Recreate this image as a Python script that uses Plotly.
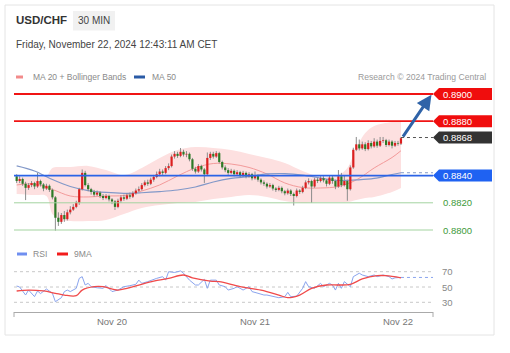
import plotly.graph_objects as go
import pandas as pd

# ---------------- data ----------------
symbol = "USD/CHF"
timeframe = "30 MIN"
stamp = "Friday, November 22, 2024 12:43:11 AM CET"
credit = "Research \u00a9 2024 Trading Central"

first_open = 0.88395
closes = [0.88360, 0.88375, 0.88340, 0.88310, 0.88330, 0.88345, 0.88320, 0.88360, 0.88335, 0.88305,
          0.88325, 0.88295, 0.88240, 0.88090, 0.88060, 0.88110, 0.88080, 0.88130, 0.88150, 0.88170,
          0.88200, 0.88300, 0.88420, 0.88330, 0.88300, 0.88280, 0.88260, 0.88275, 0.88250, 0.88235,
          0.88250, 0.88225, 0.88210, 0.88170, 0.88215, 0.88240, 0.88230, 0.88255, 0.88245, 0.88270,
          0.88290, 0.88300, 0.88330, 0.88350, 0.88340, 0.88370, 0.88390, 0.88410, 0.88430, 0.88420,
          0.88455, 0.88470, 0.88540, 0.88560, 0.88545, 0.88575, 0.88555, 0.88560, 0.88520, 0.88450,
          0.88430, 0.88470, 0.88445, 0.88410, 0.88530, 0.88560, 0.88540, 0.88565, 0.88500, 0.88460,
          0.88440, 0.88420, 0.88435, 0.88410, 0.88425, 0.88400, 0.88420, 0.88395, 0.88410, 0.88380,
          0.88400, 0.88370, 0.88350, 0.88340, 0.88320, 0.88330, 0.88305, 0.88295, 0.88310, 0.88285,
          0.88270, 0.88290, 0.88265, 0.88250, 0.88290, 0.88280, 0.88310, 0.88350, 0.88360, 0.88320,
          0.88370, 0.88360, 0.88380, 0.88365, 0.88340, 0.88385, 0.88360, 0.88320, 0.88395, 0.88330,
          0.88360, 0.88300, 0.88460, 0.88590, 0.88630, 0.88600, 0.88630, 0.88595, 0.88640, 0.88615,
          0.88650, 0.88620, 0.88655, 0.88660, 0.88625, 0.88650, 0.88620, 0.88640, 0.88635, 0.88675]
highs = [0.88410, 0.88395, 0.88385, 0.88355, 0.88345, 0.88360, 0.88355, 0.88420, 0.88370, 0.88345,
         0.88340, 0.88335, 0.88305, 0.88250, 0.88130, 0.88125, 0.88140, 0.88150, 0.88175, 0.88190,
         0.88215, 0.88310, 0.88445, 0.88435, 0.88345, 0.88310, 0.88295, 0.88290, 0.88285, 0.88265,
         0.88265, 0.88260, 0.88235, 0.88220, 0.88230, 0.88255, 0.88260, 0.88270, 0.88275, 0.88285,
         0.88305, 0.88320, 0.88345, 0.88365, 0.88370, 0.88385, 0.88405, 0.88430, 0.88450, 0.88445,
         0.88470, 0.88490, 0.88555, 0.88580, 0.88575, 0.88603, 0.88590, 0.88580, 0.88570, 0.88530,
         0.88465, 0.88485, 0.88480, 0.88455, 0.88570, 0.88575, 0.88575, 0.88580, 0.88575, 0.88510,
         0.88475, 0.88455, 0.88450, 0.88445, 0.88440, 0.88435, 0.88435, 0.88430, 0.88425, 0.88420,
         0.88430, 0.88410, 0.88380, 0.88365, 0.88350, 0.88345, 0.88340, 0.88315, 0.88325, 0.88320,
         0.88295, 0.88305, 0.88300, 0.88275, 0.88305, 0.88300, 0.88325, 0.88365, 0.88380, 0.88370,
         0.88385, 0.88385, 0.88395, 0.88395, 0.88375, 0.88400, 0.88400, 0.88370, 0.88441, 0.88420,
         0.88400, 0.88370, 0.88475, 0.88605, 0.88684, 0.88665, 0.88650, 0.88645, 0.88660, 0.88655,
         0.88675, 0.88665, 0.88684, 0.88684, 0.88670, 0.88665, 0.88660, 0.88655, 0.88655, 0.88684]
lows = [0.88345, 0.88345, 0.88325, 0.88220, 0.88295, 0.88315, 0.88300, 0.88310, 0.88320, 0.88285,
        0.88295, 0.88280, 0.88225, 0.87995, 0.88030, 0.88045, 0.88060, 0.88070, 0.88115, 0.88140,
        0.88160, 0.88185, 0.88290, 0.88320, 0.88285, 0.88260, 0.88245, 0.88250, 0.88235, 0.88220,
        0.88225, 0.88210, 0.88190, 0.88147, 0.88160, 0.88200, 0.88215, 0.88220, 0.88230, 0.88235,
        0.88260, 0.88280, 0.88290, 0.88320, 0.88325, 0.88330, 0.88355, 0.88380, 0.88395, 0.88405,
        0.88410, 0.88440, 0.88460, 0.88525, 0.88530, 0.88535, 0.88540, 0.88535, 0.88505, 0.88435,
        0.88415, 0.88420, 0.88430, 0.88346, 0.88400, 0.88515, 0.88525, 0.88530, 0.88490, 0.88445,
        0.88425, 0.88405, 0.88410, 0.88395, 0.88400, 0.88385, 0.88390, 0.88380, 0.88385, 0.88365,
        0.88370, 0.88355, 0.88335, 0.88325, 0.88305, 0.88310, 0.88290, 0.88280, 0.88285, 0.88270,
        0.88255, 0.88260, 0.88250, 0.88180, 0.88240, 0.88265, 0.88270, 0.88300, 0.88335, 0.88199,
        0.88310, 0.88345, 0.88350, 0.88350, 0.88320, 0.88330, 0.88340, 0.88300, 0.88310, 0.88315,
        0.88320, 0.88215, 0.88290, 0.88450, 0.88580, 0.88585, 0.88590, 0.88580, 0.88585, 0.88600,
        0.88605, 0.88605, 0.88610, 0.88640, 0.88610, 0.88615, 0.88600, 0.88610, 0.88620, 0.88625]

ma_idx = [0, 6, 12, 18, 24, 30, 36, 42, 48, 54, 60, 66, 72, 78, 84, 90, 96, 102, 108, 114, 120, 126, 129]
ma20 = [0.88331, 0.88338, 0.88298, 0.88250, 0.88243, 0.88250, 0.88254, 0.88287, 0.88331, 0.88397, 0.88456,
        0.88489, 0.88485, 0.88460, 0.88412, 0.88346, 0.88312, 0.88309, 0.88320, 0.88368, 0.88456, 0.88533, 0.88583]
ma50 = [0.88471, 0.88434, 0.88371, 0.88320, 0.88290, 0.88276, 0.88270, 0.88274, 0.88282, 0.88294, 0.88316,
        0.88353, 0.88379, 0.88393, 0.88412, 0.88415, 0.88404, 0.88382, 0.88364, 0.88368, 0.88379, 0.88408, 0.88421]

bb_idx = [0, 6, 10, 12, 15, 18, 24, 30, 36, 42, 48, 54, 60, 66, 72, 78, 84, 90, 96, 102, 108, 111, 114, 117, 120, 126, 129]
bb_upper = [0.88390, 0.88390, 0.88397, 0.88456, 0.88463, 0.88463, 0.88471, 0.88441, 0.88404, 0.88456, 0.88529,
            0.88588, 0.88610, 0.88603, 0.88588, 0.88559, 0.88529, 0.88493, 0.88434, 0.88390, 0.88404, 0.88456,
            0.88603, 0.88713, 0.88765, 0.88794, 0.88801]
bb_lower = [0.88265, 0.88257, 0.88250, 0.88118, 0.88074, 0.88066, 0.88066, 0.88074, 0.88118, 0.88162, 0.88184,
            0.88199, 0.88206, 0.88228, 0.88243, 0.88257, 0.88243, 0.88213, 0.88199, 0.88206, 0.88206, 0.88206,
            0.88221, 0.88235, 0.88243, 0.88279, 0.88309]

rsi_idx = [0, 1, 3, 4, 6, 7, 8, 10, 12, 13, 15, 16, 17, 18, 20, 21, 22, 23, 24, 25, 27, 29, 30, 31, 32, 34,
           35, 36, 38, 40, 41, 42, 44, 46, 47, 49, 50, 51, 53, 55, 56, 58, 60, 61, 63, 64, 65, 67, 68, 70, 71,
           73, 74, 75, 76, 78, 79, 81, 83, 84, 86, 88, 90, 91, 92, 94, 96, 97, 98, 100, 102, 103, 105, 106,
           107, 108, 109, 110, 112, 113, 115, 116, 118, 120, 121, 123, 125, 126, 127, 129]
rsi_val = [51.3, 50.0, 39.5, 46.0, 37.4, 44.8, 41.4, 47.4, 41.8, 30.8, 36.0, 43.9, 46.0, 44.0, 48.3, 61.3,
           63.5, 52.6, 54.8, 50.4, 49.0, 48.3, 52.0, 48.0, 44.0, 46.0, 48.3, 50.4, 51.7, 53.5, 59.0, 54.8,
           57.0, 60.5, 61.3, 63.5, 59.0, 70.0, 69.0, 71.0, 68.0, 59.0, 52.6, 52.6, 60.0, 48.3, 59.0, 59.0,
           52.6, 50.4, 46.0, 48.3, 50.4, 48.3, 46.0, 50.4, 44.0, 41.8, 39.5, 39.5, 37.3, 36.0, 37.3, 43.0,
           37.3, 38.0, 48.3, 57.0, 50.4, 48.3, 54.8, 50.4, 54.8, 52.6, 46.0, 54.8, 48.3, 57.0, 50.4, 63.5,
           68.0, 65.7, 63.5, 65.7, 63.5, 65.7, 63.5, 60.5, 62.0, 62.5]

ma9_idx = [0, 4, 9, 13, 16, 20, 22, 26, 29, 34, 37, 41, 46, 51, 56, 59, 65, 68, 75, 82, 88, 91, 95, 99, 104,
           108, 112, 116, 121, 124, 129]
ma9_val = [44.8, 46.0, 44.8, 41.8, 39.5, 38.7, 46.0, 50.4, 50.4, 46.0, 48.3, 52.6, 57.8, 61.3, 65.7, 62.0,
           57.8, 57.0, 50.4, 46.0, 39.5, 36.0, 39.5, 48.3, 52.6, 52.6, 53.5, 60.5, 64.8, 64.8, 62.0]

resistance = [0.8900, 0.8880]
pivot = 0.8840
supports = [0.8820, 0.8800]
last_price = 0.8868
rsi_levels = [70, 50, 30]
tick_dates = ["2024-11-20", "2024-11-21", "2024-11-22"]
tick_text = ["Nov 20", "Nov 21", "Nov 22"]
x_start, x_end = "2024-11-19 07:33:11", "2024-11-22 05:52:28"
arrow_tail = ("2024-11-22 00:40", 0.88675)
arrow_head = ("2024-11-22 05:37", 0.88995)

# ---------------- geometry ----------------
W, H = 510, 353
ML, MR, MT, MB = 14, 77, 85, 41
PW, PH = W - ML - MR, H - MT - MB
def fx(px):
    return (px - ML) / PW
def fy(py):
    return (H - MB - py) / PH

main_top, main_bot = 85, 240
rsi_top, rsi_bot = 262, 312
pp = 0.01 / 136.0  # price per pixel
y_main = [0.8800 - (main_bot - 230) * pp, 0.8900 + (94 - main_top) * pp]
r_pp = 20 / 15.3
y_rsi = [50 - (rsi_bot - 287) * r_pp, 50 + (287 - rsi_top) * r_pp]

FONT = "Arial, Liberation Sans, sans-serif"
RED_UP = "#dc1f1f"
GREEN_DN = "#2c7a26"

times = pd.date_range("2024-11-19 08:00", periods=len(closes), freq="30min")
opens = [first_open] + closes[:-1]

fig = go.Figure()

# Bollinger band fill
bt = [times[i] for i in bb_idx]
fig.add_trace(go.Scatter(x=bt, y=bb_upper, mode="lines", line=dict(width=0, shape="spline", smoothing=1),
                         hoverinfo="skip", xaxis="x", yaxis="y"))
fig.add_trace(go.Scatter(x=bt, y=bb_lower, mode="lines", line=dict(width=0, shape="spline", smoothing=1),
                         fill="tonexty", fillcolor="#fde0e0", hoverinfo="skip", xaxis="x", yaxis="y"))

# MA lines
mt = [times[i] for i in ma_idx]
fig.add_trace(go.Scatter(x=mt, y=ma20, mode="lines", line=dict(color="#f39a9a", width=1, shape="spline"),
                         hoverinfo="skip"))
fig.add_trace(go.Scatter(x=mt, y=ma50, mode="lines", line=dict(color="#8298c8", width=1.2, shape="spline"),
                         hoverinfo="skip"))
fig.add_trace(go.Scatter(x=[times[-1], x_end], y=[ma50[-1], ma50[-1]], mode="lines",
                         line=dict(color="#8298c8", width=1, dash="dot"), hoverinfo="skip"))

# wicks
wx, wy = [], []
for t, h, l in zip(times, highs, lows):
    wx += [t, t, None]
    wy += [l, h, None]
fig.add_trace(go.Scatter(x=wx, y=wy, mode="lines", line=dict(color="#8c8c8c", width=1), hoverinfo="skip"))

# bodies (thick segments so they sit above wicks)
min_body = 0.00004
for up, colr in ((True, RED_UP), (False, GREEN_DN)):
    bx, by = [], []
    for t, o, c in zip(times, opens, closes):
        if (c >= o) == up:
            lo, hi = min(o, c), max(o, c)
            if hi - lo < min_body:
                mid = (hi + lo) / 2
                lo, hi = mid - min_body / 2, mid + min_body / 2
            bx += [t, t, None]
            by += [lo, hi, None]
    fig.add_trace(go.Scatter(x=bx, y=by, mode="lines", line=dict(color=colr, width=2.2), hoverinfo="skip"))

# last price dotted
fig.add_trace(go.Scatter(x=[times[-1], x_end], y=[last_price, last_price], mode="lines",
                         line=dict(color="#555555", width=1, dash="dot"), hoverinfo="skip"))

# RSI panel
rt = [times[i] for i in rsi_idx]
fig.add_trace(go.Scatter(x=rt, y=rsi_val, mode="lines", line=dict(color="#8aa4ee", width=1),
                         xaxis="x2", yaxis="y2", hoverinfo="skip"))
fig.add_trace(go.Scatter(x=[times[-1], x_end], y=[rsi_val[-1], rsi_val[-1]], mode="lines",
                         line=dict(color="#8aa4ee", width=1, dash="dot"), xaxis="x2", yaxis="y2",
                         hoverinfo="skip"))
m9t = [times[i] for i in ma9_idx]
fig.add_trace(go.Scatter(x=m9t, y=ma9_val, mode="lines", line=dict(color="#f04a4a", width=1.3, shape="spline"),
                         xaxis="x2", yaxis="y2", hoverinfo="skip"))

shapes = []
annotations = []

# card border
shapes.append(dict(type="rect", xref="paper", yref="paper", x0=fx(5), x1=fx(494), y0=fy(335), y1=fy(5),
                   line=dict(color="#e4e4e4", width=1), fillcolor="rgba(0,0,0,0)", layer="below"))
# timeframe badge
shapes.append(dict(type="rect", xref="paper", yref="paper", x0=fx(73), x1=fx(115), y0=fy(30.5), y1=fy(11),
                   line=dict(width=0), fillcolor="#f1f1f1", layer="below"))

# horizontal levels
for lv in resistance:
    shapes.append(dict(type="line", xref="paper", yref="y", x0=0, x1=1, y0=lv, y1=lv,
                       line=dict(color="#f01414", width=1.8), layer="above"))
shapes.append(dict(type="line", xref="paper", yref="y", x0=0, x1=1, y0=pivot, y1=pivot,
                   line=dict(color="#2b63e6", width=1.6), layer="above"))
for lv in supports:
    shapes.append(dict(type="line", xref="paper", yref="y", x0=0, x1=1, y0=lv, y1=lv,
                       line=dict(color="#a3d3a0", width=1), layer="above"))

# label boxes
half = 6 * pp
def tag(level, color):
    xa, xb, xc = fx(433), fx(439), fx(492)
    path = (f"M {xa},{level} L {xb},{level + half} L {xc},{level + half} "
            f"L {xc},{level - half} L {xb},{level - half} Z")
    shapes.append(dict(type="path", xref="paper", yref="y", path=path, fillcolor=color,
                       line=dict(width=0), layer="above"))
    annotations.append(dict(x=fx(441), y=level, xref="paper", yref="y", text=f"{level:.4f}",
                            showarrow=False, xanchor="left", yanchor="middle",
                            font=dict(family=FONT, size=9.5, color="white")))

for lv in resistance:
    tag(lv, "#f00d0d")
tag(last_price, "#333333")
tag(pivot, "#1f62f2")
for lv in supports:
    annotations.append(dict(x=fx(441), y=lv, xref="paper", yref="y", text=f"{lv:.4f}", showarrow=False,
                            xanchor="left", yanchor="middle", font=dict(family=FONT, size=9.5, color="#3d9a3a")))

# RSI dotted grid + labels
for lv in rsi_levels:
    shapes.append(dict(type="line", xref="paper", yref="y2", x0=0, x1=1, y0=lv, y1=lv,
                       line=dict(color="#c8c8c8", width=1, dash="dot"), layer="below"))
    annotations.append(dict(x=fx(440), y=lv, xref="paper", yref="y2", text=str(lv), showarrow=False,
                            xanchor="left", yanchor="middle", font=dict(family=FONT, size=9.5, color="#888888")))

# axis end ticks
for px in (14, 433):
    shapes.append(dict(type="line", xref="paper", yref="paper", x0=fx(px), x1=fx(px), y0=fy(312), y1=fy(317),
                       line=dict(color="#aaaaaa", width=1)))

# legend swatches
shapes.append(dict(type="rect", xref="paper", yref="paper", x0=fx(16), x1=fx(23), y0=fy(78.5), y1=fy(75.5),
                   fillcolor="#f28b8b", line=dict(width=0)))
shapes.append(dict(type="rect", xref="paper", yref="paper", x0=fx(134), x1=fx(145), y0=fy(78.5), y1=fy(75.5),
                   fillcolor="#2a5ba6", line=dict(width=0)))
shapes.append(dict(type="rect", xref="paper", yref="paper", x0=fx(17), x1=fx(27), y0=fy(255.5), y1=fy(252.5),
                   fillcolor="#6f8ff0", line=dict(width=0)))
shapes.append(dict(type="rect", xref="paper", yref="paper", x0=fx(57), x1=fx(68), y0=fy(255.5), y1=fy(252.5),
                   fillcolor="#f21c1c", line=dict(width=0)))

def txt(px, py, s, size, color, anchor="left", bold=False):
    annotations.append(dict(x=fx(px), y=fy(py), xref="paper", yref="paper",
                            text=f"<b>{s}</b>" if bold else s, showarrow=False, xanchor=anchor,
                            yanchor="middle", font=dict(family=FONT, size=size, color=color)))

txt(14, 20.5, symbol, 11.5, "#333333", bold=True)
txt(94, 20.8, timeframe, 10, "#444444", anchor="center")
txt(14, 45, stamp, 10, "#444444")
txt(31, 77, "MA 20 + Bollinger Bands", 8.5, "#8a8a8a")
txt(150, 77, "MA 50", 8.5, "#8a8a8a")
txt(488, 76.5, credit, 8.6, "#9a9a9a", anchor="right")
txt(31, 254, "RSI", 8.6, "#8a8a8a")
txt(72, 254, "9MA", 8.6, "#8a8a8a")

# forecast arrow
annotations.append(dict(x=arrow_head[0], y=arrow_head[1], ax=arrow_tail[0], ay=arrow_tail[1],
                        xref="x", yref="y", axref="x", ayref="y", text="", showarrow=True,
                        arrowhead=2, arrowsize=1, arrowwidth=3, arrowcolor="#2f63a8", standoff=0))

fig.update_layout(
    width=W, height=H, margin=dict(l=ML, r=MR, t=MT, b=MB),
    paper_bgcolor="white", plot_bgcolor="white", showlegend=False, hovermode=False,
    xaxis=dict(range=[x_start, x_end], type="date", domain=[0, 1], anchor="y",
               showgrid=False, zeroline=False, showticklabels=False, showline=False, ticks=""),
    yaxis=dict(range=y_main, domain=[fy(main_bot), fy(main_top)], showgrid=False, zeroline=False,
               showticklabels=False, showline=False, ticks=""),
    xaxis2=dict(range=[x_start, x_end], type="date", domain=[0, 1], anchor="y2",
                showgrid=False, zeroline=False, showline=True, linecolor="#aaaaaa", linewidth=1.2,
                ticks="", tickvals=tick_dates, ticktext=tick_text,
                tickfont=dict(family=FONT, size=9.5, color="#777777")),
    yaxis2=dict(range=y_rsi, domain=[fy(rsi_bot), fy(rsi_top)], showgrid=False, zeroline=False,
                showticklabels=False, showline=False, ticks=""),
    shapes=shapes, annotations=annotations,
    font=dict(family=FONT),
)

fig.write_html("out.html", config={"displayModeBar": False})
